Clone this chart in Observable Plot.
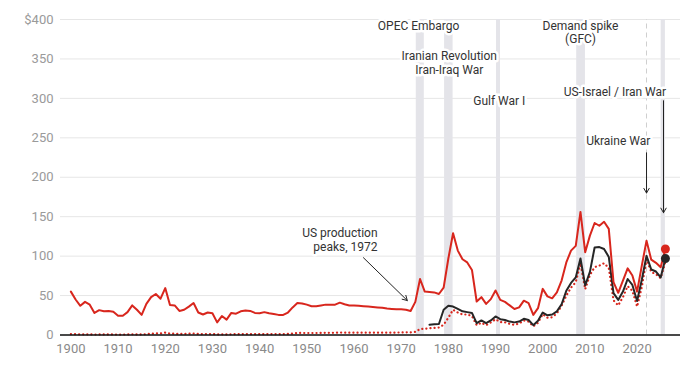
<!DOCTYPE html>
<html><head><meta charset="utf-8">
<script src="https://cdn.jsdelivr.net/npm/d3@7"></script>
<script src="https://cdn.jsdelivr.net/npm/@observablehq/plot@0.6"></script>
<style>
html,body{margin:0;padding:0;background:#fff;}
svg{display:block;}
</style>
</head><body><div id="chart"></div>
<script>
// ---- data ----
const startYear = 1900; // real & nominal series run 1900..2026
const realPrice = [
 55,45,37,42,38.5,28,31.5,30,30.5,29.5,
 24.5,24.5,29,37.5,32,25.5,39.5,48,52,46,
 59.5,38,37.5,30.5,32,36,40.5,28.5,26,28.5,
 27.5,16,24,19.5,28,27,30,31,30.5,28,
 27.5,29,27.5,26.5,25.5,25.5,28.5,35,40.5,40,
 38.5,36.5,36.5,37.5,38.5,38.5,38.5,41,39,37.5,
 37.5,37,36.5,36,35.5,35,34.5,33.5,33,32.5,
 32.5,32,30.5,42,71,55,54.5,54,52,60,
 97,129,107,96,92,82.5,42.5,48,39.5,45.5,
 56.5,44.5,42,37.5,33,35,43.5,40.5,25.5,34,
 58.5,49,46.5,54,69,92,107,113,156,105,
 126,142,138.5,143.5,134.5,67,53.5,69,84.5,75.5,
 55,88,119.5,95.5,91.5,86,109
];
const nominalPrice = [
 1.2,1.0,0.8,0.95,0.85,0.6,0.7,0.7,0.7,0.7,
 0.6,0.6,0.75,0.95,0.8,0.65,1.1,1.55,2.0,2.0,
 3.1,1.7,1.6,1.3,1.4,1.7,1.9,1.3,1.2,1.3,
 1.2,0.65,0.9,0.7,1.0,1.0,1.1,1.2,1.15,1.0,
 1.0,1.15,1.2,1.2,1.2,1.2,1.4,1.9,2.6,2.55,
 2.5,2.55,2.55,2.7,2.8,2.8,2.8,3.1,3.0,2.9,
 2.9,2.9,2.9,2.9,2.9,2.9,2.9,2.95,2.95,3.1,
 3.2,3.4,3.4,3.9,7.5,8,8.5,9,9.5,13,
 22,32,28.5,26,26,24,12.5,15.5,12.5,16,
 20,16.5,16,14,13,14.5,18.5,17,11,15.5,
 26.5,22,22.5,27.5,37,50,60,67,91,58,
 76,86,88,91,85,44,37.5,48,62,56,
 36,61,96,80,77,72,93
];
const brentStart = 1976; // black series runs 1976..2026
const brentPrice = [
 13,13.5,14,32,37,36,33,30,29,28,
 15,18.5,15,18.5,23.5,20,19,17,16,17,
 20.5,19,12.5,18,28.5,25,26,30,39,56,
 66,73,97,63,80,111,111.5,109,99,53,
 44.5,55,71,63.5,43,70,100.5,83,80.5,73,
 97
];
const yTicks = [0,50,100,150,200,250,300,350,400];
const xTicks = [1900,1910,1920,1930,1940,1950,1960,1970,1980,1990,2000,2010,2020];

const bandStart = [1973.2,1979.2,1990.2,2007.2,2025.1];
const bandEnd   = [1974.9,1981.0,1991.05,2009.05,2026.0];
const dashedYear = [2022];

const labelText = ["OPEC Embargo","Iranian Revolution","Iran-Iraq War","Gulf War I","Demand spike","(GFC)","US-Israel / Iran War","Ukraine War"];
const labelX    = [1973.7,1980.2,1980.2,1990.8,2008.0,2008.0,2015.3,2016.0];
const labelY    = [391.5,353,336,297,391.5,375,307.5,245.5];

const prodText = ["US production","peaks, 1972"];
const prodX = [1965.0,1965.0];
const prodY = [128.5,111];

const arrowX1 = [1962.0,2022.0,2025.6];
const arrowY1 = [98,231,297];
const arrowX2 = [1971.3,2022.0,2025.6];
const arrowY2 = [43.7,180,155];

// ---- tables built from arrays ----
const real = realPrice.map((v,i)=>({year:startYear+i, value:v}));
const nominal = nominalPrice.map((v,i)=>({year:startYear+i, value:v}));
const brent = brentPrice.map((v,i)=>({year:brentStart+i, value:v}));
const bands = bandStart.map((s,i)=>({x1:s, x2:bandEnd[i]}));
const labels = labelText.map((t,i)=>({text:t, x:labelX[i], y:labelY[i]}));
const prod = prodText.map((t,i)=>({text:t, x:prodX[i], y:prodY[i]}));
const arrows = arrowX1.map((x,i)=>({x1:x, y1:arrowY1[i], x2:arrowX2[i], y2:arrowY2[i]}));
const lastReal = real.slice(-1), lastBrent = brent.slice(-1);

const RED = "#d8261d", BLACK = "#262626";

const chart = Plot.plot({
  width: 700, height: 375,
  marginTop: 19, marginBottom: 40.5, marginLeft: 60, marginRight: 20,
  style: {fontFamily: "Roboto, sans-serif", fontSize: "13px", background: "#fff"},
  x: {domain: [1897.8, 2029.2], label: null},
  y: {domain: [0, 400], label: null},
  marks: [
    Plot.gridY(yTicks, {stroke: "#e6e6e6", strokeOpacity: 1}),
    Plot.rectX(bands, {x1: "x1", x2: "x2", y1: 0, y2: 400, fill: "#e4e4e9"}),
    Plot.ruleX(dashedYear, {y1: 0, y2: 400, stroke: "#cfcfcf", strokeDasharray: "5,4"}),
    Plot.axisY(yTicks, {tickSize: 0, tickPadding: 7, fill: "#9a9a9a", tickFormat: d => d === 400 ? "$400" : String(d)}),
    Plot.axisX(xTicks, {tickSize: 0, tickPadding: 9, fill: "#8a8a8a", tickFormat: d => String(d)}),
    Plot.line(nominal, {x: "year", y: "value", stroke: RED, strokeWidth: 2.2, strokeDasharray: "0.1,4", strokeLinecap: "round"}),
    Plot.line(brent, {x: "year", y: "value", stroke: BLACK, strokeWidth: 2}),
    Plot.line(real, {x: "year", y: "value", stroke: RED, strokeWidth: 2}),
    Plot.dot(lastReal, {x: "year", y: "value", r: 4.5, fill: RED}),
    Plot.dot(lastBrent, {x: "year", y: "value", r: 4.5, fill: BLACK}),
    Plot.ruleY([0], {stroke: "#111", strokeWidth: 1.5}),
    Plot.arrow(arrows, {x1: "x1", y1: "y1", x2: "x2", y2: "y2", stroke: "#222", strokeWidth: 1, headLength: 8}),
    Plot.text(labels, {x: "x", y: "y", text: "text", fill: "#333", stroke: "white", strokeWidth: 5, paintOrder: "stroke", fontSize: 12}),
    Plot.text(prod, {x: "x", y: "y", text: "text", textAnchor: "end", fill: "#333", stroke: "white", strokeWidth: 5, paintOrder: "stroke", fontSize: 12})
  ]
});
document.getElementById("chart").appendChild(chart);
</script>
</body></html>
